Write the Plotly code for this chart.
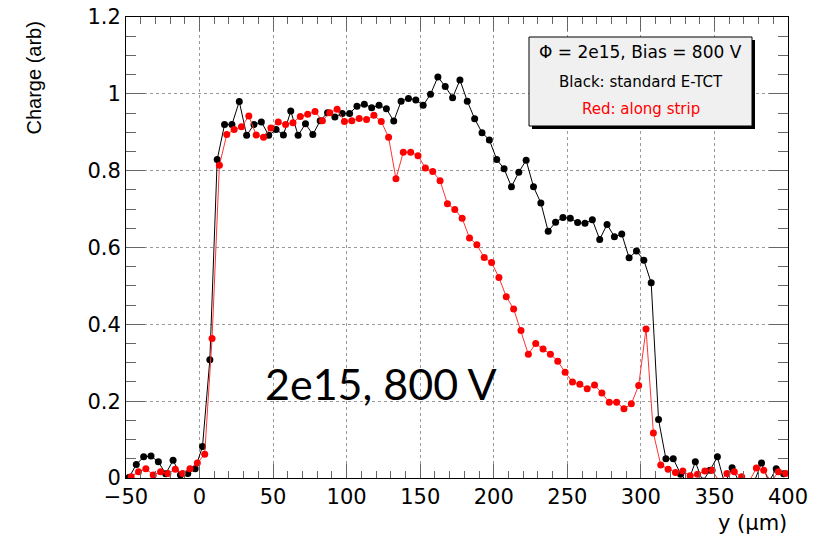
import plotly.graph_objects as go

# ---- data ----
black_x = [-48 + 5 * i for i in range(90)]
black_y = [0.001, 0.035, 0.055, 0.057, 0.042, 0.011, 0.046, 0.008, 0.012, 0.024,
           0.082, 0.308, 0.829, 0.920, 0.920, 0.980, 0.892, 0.920, 0.927, 0.892,
           0.907, 0.893, 0.955, 0.892, 0.922, 0.894, 0.930, 0.951, 0.940, 0.949,
           0.949, 0.968, 0.973, 0.964, 0.970, 0.961, 0.929, 0.981, 0.988, 0.984,
           0.970, 0.999, 1.044, 1.019, 0.990, 1.036, 0.981, 0.935, 0.899, 0.880,
           0.829, 0.805, 0.758, 0.796, 0.827, 0.758, 0.716, 0.642, 0.666, 0.678,
           0.676, 0.665, 0.663, 0.672, 0.621, 0.660, 0.628, 0.635, 0.573, 0.591,
           0.567, 0.508, 0.152, 0.050, 0.050, 0.010, -0.012, 0.042, -0.008, 0.020,
           0.055, -0.015, 0.027, -0.012, -0.02, -0.01, 0.039, -0.01, 0.024, 0.011]

red_x = [-46.5 + 5 * i for i in range(90)]
red_y = [0.003, 0.016, 0.024, 0.008, 0.016, 0.012, 0.023, 0.012, 0.024, 0.039,
         0.062, 0.363, 0.814, 0.894, 0.907, 0.914, 0.942, 0.893, 0.887, 0.911,
         0.927, 0.920, 0.925, 0.941, 0.947, 0.954, 0.930, 0.951, 0.960, 0.928,
         0.930, 0.936, 0.933, 0.944, 0.928, 0.887, 0.779, 0.848, 0.848, 0.839,
         0.807, 0.798, 0.774, 0.714, 0.699, 0.676, 0.625, 0.607, 0.574, 0.561,
         0.522, 0.472, 0.440, 0.384, 0.322, 0.350, 0.336, 0.322, 0.304, 0.275,
         0.250, 0.244, 0.232, 0.242, 0.221, 0.197, 0.197, 0.180, 0.193, 0.241,
         0.388, 0.117, 0.034, 0.023, 0.014, 0.018, 0.006, 0.010, 0.018, 0.020,
         -0.01, 0.012, 0.016, 0.003, -0.01, 0.026, 0.020, -0.01, 0.016, 0.012]

x_ticks = [-50, 0, 50, 100, 150, 200, 250, 300, 350, 400]
y_ticks = [0, 0.2, 0.4, 0.6, 0.8, 1.0, 1.2]
y_tick_labels = ["0", "0.2", "0.4", "0.6", "0.8", "1", "1.2"]

fig = go.Figure()
fig.add_trace(go.Scatter(x=black_x, y=black_y, mode="lines+markers",
                         line=dict(color="black", width=1),
                         marker=dict(color="black", size=7),
                         name="standard E-TCT"))
fig.add_trace(go.Scatter(x=red_x, y=red_y, mode="lines+markers",
                         line=dict(color="#ff3333", width=1),
                         marker=dict(color="#ff0000", size=7),
                         name="along strip"))

# page has an 8px body margin, so the figure is drawn 8px smaller and offset
OFF = 8
W, H = 830 - OFF, 539 - OFF
PL, PR, PT, PB = 126, 788, 17, 478          # plot area in page pixels
L, T = PL - OFF, PT - OFF
pw, ph = PR - PL, PB - PT
R, B = W - L - pw, H - T - ph


def px(xp):
    return (xp - PL) / pw


def py(yp):
    return (PB - yp) / ph


FONT = "DejaVu Sans"
axis_common = dict(showline=True, linecolor="black", linewidth=1, mirror="ticks",
                   ticks="inside", tickcolor="#666", showgrid=True, automargin=False,
                   gridcolor="#9a9a9a", griddash="dot", gridwidth=1, zeroline=False,
                   ticklabeloverflow="allow",
                   tickfont=dict(family=FONT, size=21, color="black"))

fig.update_xaxes(range=[-50, 400], tickvals=x_ticks, ticklen=14,
                 minor=dict(dtick=10, ticklen=7, ticks="inside", tickcolor="#666", showgrid=False),
                 **axis_common)
fig.update_yaxes(range=[0, 1.2], tickvals=y_ticks, ticktext=y_tick_labels, ticklen=19,
                 minor=dict(dtick=0.05, ticklen=10, ticks="inside", tickcolor="#666", showgrid=False),
                 **axis_common)

shapes = [
    dict(type="rect", xref="paper", yref="paper",
         x0=px(532), x1=px(755), y0=py(129), y1=py(40),
         fillcolor="black", line=dict(width=0), layer="above"),
    dict(type="rect", xref="paper", yref="paper",
         x0=px(529), x1=px(752), y0=py(126), y1=py(37),
         fillcolor="#f0f0f0", line=dict(color="black", width=1), layer="above"),
]

annotations = [
    dict(text="Φ = 2e15, Bias = 800 V", xref="paper", yref="paper", x=px(640.5), y=py(51.7),
         showarrow=False, xanchor="center", yanchor="middle",
         font=dict(family=FONT, size=17, color="black")),
    dict(text="Black: standard E-TCT", xref="paper", yref="paper", x=px(640.5), y=py(81.7),
         showarrow=False, xanchor="center", yanchor="middle",
         font=dict(family=FONT, size=15, color="black")),
    dict(text="Red: along strip", xref="paper", yref="paper", x=px(640.5), y=py(109.3),
         showarrow=False, xanchor="center", yanchor="middle",
         font=dict(family=FONT, size=15, color="#ff0000")),
    dict(text="2e15, 800 V", xref="x", yref="y", x=123, y=0.245,
         showarrow=False, xanchor="center", yanchor="middle",
         font=dict(family="Lato, Open Sans", size=43, color="black")),
    dict(text="Charge (arb)", xref="paper", yref="paper", x=px(33), y=py(20),
         textangle=-90, showarrow=False, xanchor="center", yanchor="top",
         font=dict(family="Liberation Sans, Arial", size=20, color="black")),
    dict(text="y (µm)", xref="paper", yref="paper", x=px(789), y=py(523),
         showarrow=False, xanchor="right", yanchor="middle",
         font=dict(family=FONT, size=21, color="black")),
]

fig.update_layout(width=W, height=H, margin=dict(l=L, r=R, t=T, b=B, pad=0, autoexpand=False),
                  paper_bgcolor="white", plot_bgcolor="white", showlegend=False,
                  shapes=shapes, annotations=annotations)

fig.write_html("out.html")
